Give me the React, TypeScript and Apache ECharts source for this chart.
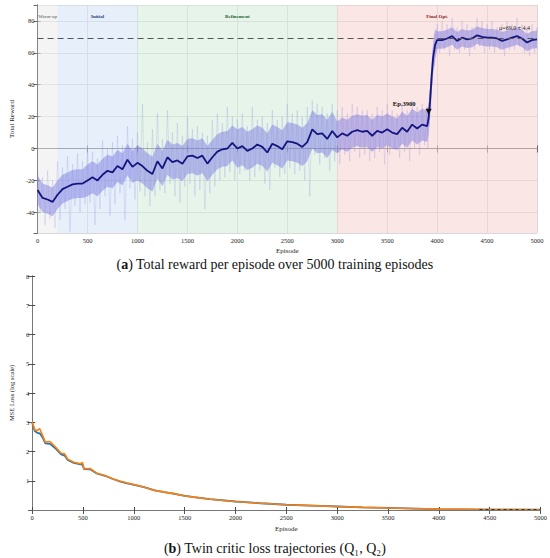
import React, { useEffect, useRef } from "react";
import * as echarts from "echarts";

// ---------- (a) Total reward ----------
const rewardEpisodes = [
  0, 50, 100, 150, 200, 250, 300, 350, 400, 450,
  500, 550, 600, 650, 700, 750, 800, 850, 900, 950,
  1000, 1050, 1100, 1150, 1200, 1250, 1300, 1350, 1400, 1450,
  1500, 1550, 1600, 1650, 1700, 1750, 1800, 1850, 1900, 1950,
  2000, 2050, 2100, 2150, 2200, 2250, 2300, 2350, 2400, 2450,
  2500, 2550, 2600, 2650, 2700, 2750, 2800, 2850, 2900, 2950,
  3000, 3050, 3100, 3150, 3200, 3250, 3300, 3350, 3400, 3450,
  3500, 3550, 3600, 3650, 3700, 3750, 3800, 3850, 3900,
  3915, 3930, 3945, 3960, 3980,
  4000, 4050, 4100, 4150, 4200, 4250, 4300, 4350, 4400, 4450,
  4500, 4550, 4600, 4650, 4700, 4750, 4800, 4850, 4900, 4950, 5000,
];
const meanReward = [
  -26, -31, -32, -33.5, -29, -25.5, -24, -22.5, -22, -22,
  -20, -18, -20, -16.5, -14, -15, -11, -13, -7, -11.5,
  -9, -11, -14, -16, -8, -12.5, -5.5, -8.5, -7.5, -9.5,
  -5, -4.5, -6, -4.5, -9.5, -5.5, -2, -0.5, 0, 3.5,
  0, 1.5, -1.5, 0, 2.5, 1, -2.5, 3, 1.5, -0.5,
  4.5, 4, 3, 1, 4, 12, 9, 9.5, 6, 11,
  7, 9.5, 8, 10.5, 11.5, 10.5, 11, 8, 11, 10,
  12, 10, 9, 13, 10.5, 15, 12.5, 15, 14,
  19, 30, 45, 57, 65,
  68, 68, 69, 70.5, 67.5, 69.5, 68.5, 69, 71, 70,
  69.5, 69.5, 69, 67.5, 68.5, 69.5, 70.5, 69, 66.5, 68, 68.5,
];
const rawHigh = [
  -12, -18, -14, -20, -8, -12, -5, -10, -3, -8,
  0, -2, -6, 5, 0, 4, 8, 2, 14, 6,
  10, 28, 4, 12, 22, 6, 24, 10, 16, 8,
  20, 12, 14, 10, 8, 18, 22, 16, 26, 20,
  18, 22, 14, 26, 18, 20, 16, 24, 18, 20,
  28, 22, 24, 20, 26, 30, 28, 26, 22, 28,
  24, 26, 22, 28, 26, 24, 24, 22, 26, 24,
  28, 24, 22, 28, 24, 30, 26, 28, 26,
  24, 36, 50, 62, 72,
  78, 80, 78, 82, 76, 80, 78, 76, 82, 80,
  78, 80, 76, 78, 80, 78, 82, 78, 76, 78, 76,
];
const rawLow = [
  -40, -48, -44, -50, -45, -38, -52, -36, -40, -35,
  -34, -48, -38, -30, -42, -35, -28, -45, -25, -32,
  -27, -30, -36, -30, -26, -28, -22, -30, -34, -24,
  -22, -30, -26, -38, -28, -24, -20, -18, -15, -20,
  -16, -14, -20, -18, -14, -22, -26, -12, -18, -16,
  -12, -16, -14, -20, -30, -4, -10, -6, -14, -8,
  -10, -4, -8, -2, -6, -4, -8, -6, -2, -10,
  -4, 0, -6, -2, -8, 0, -4, 2, 0,
  14, 24, 40, 52, 60,
  60, 62, 58, 62, 60, 62, 58, 62, 64, 60,
  62, 60, 62, 58, 62, 62, 64, 60, 58, 60, 62,
];
// std half-width of the shaded band, one value per 500-episode segment
const rewardStd = [9, 10, 11, 11, 12, 12, 10, 10, 5.5, 5.5];

const phases = [
  { name: "Warm-up", from: 0, to: 200, fill: "rgba(235,235,235,0.55)", text: "#555555", weight: "normal" },
  { name: "Initial", from: 200, to: 1000, fill: "rgba(209,225,245,0.55)", text: "#1f3f7a", weight: "bold" },
  { name: "Refinement", from: 1000, to: 3000, fill: "rgba(209,235,217,0.55)", text: "#1d5e2c", weight: "bold" },
  { name: "Final Opt.", from: 3000, to: 5000, fill: "rgba(247,209,209,0.55)", text: "#8b1c1c", weight: "bold" },
];
const convergedMean = 69;
const convergedLabel = "μ=69.0 ± 4.4";
const jumpEpisode = 3900;

// ---------- (b) Twin critic loss ----------
const lossEpisodes = [
  0, 25, 50, 75, 100, 130, 175, 225, 285, 320,
  350, 410, 475, 495, 510, 570, 635, 715, 795, 860,
  935, 1015, 1110, 1205, 1300, 1400, 1490, 1590, 1750, 2000,
  2250, 2500, 2750, 3000, 3250, 3500, 3750, 4000, 4500, 5000,
];
const lossQ1 = [
  2.98, 2.70, 2.64, 2.62, 2.50, 2.28, 2.26, 2.12, 1.90, 1.86,
  1.71, 1.61, 1.56, 1.55, 1.40, 1.39, 1.25, 1.17, 1.06, 0.98,
  0.91, 0.85, 0.77, 0.67, 0.61, 0.55, 0.49, 0.44, 0.37, 0.29,
  0.23, 0.18, 0.15, 0.12, 0.09, 0.07, 0.05, 0.03, 0.015, 0.01,
];
const lossQ2 = [
  3.02, 2.74, 2.72, 2.78, 2.57, 2.32, 2.34, 2.17, 1.94, 1.92,
  1.74, 1.63, 1.58, 1.63, 1.41, 1.42, 1.26, 1.18, 1.06, 0.99,
  0.92, 0.86, 0.77, 0.67, 0.61, 0.56, 0.49, 0.44, 0.37, 0.29,
  0.23, 0.18, 0.15, 0.12, 0.09, 0.07, 0.05, 0.03, 0.015, 0.01,
];

const SERIF = "'Liberation Serif', 'DejaVu Serif', serif";

function stdAt(ep: number) {
  return rewardStd[Math.min(rewardStd.length - 1, Math.floor(ep / 500))];
}

export default function App() {
  const ref = useRef<HTMLDivElement>(null);
  useEffect(() => {
    if (!ref.current) return;
    const chart = echarts.init(ref.current, undefined, { renderer: "svg" });

    const meanData = rewardEpisodes.map((e, i) => [e, meanReward[i]]);
    const rawData: number[][] = [];
    rewardEpisodes.forEach((e, i) => {
      rawData.push([e, rawHigh[i]]);
      const next = i < rewardEpisodes.length - 1 ? rewardEpisodes[i + 1] : e;
      rawData.push([(e + next) / 2, rawLow[i]]);
    });

    const plain = (v: number) => String(v);
    const tickFont = { fontFamily: SERIF, fontSize: 6.5, color: "#222", formatter: plain };
    const axisLineTop = { lineStyle: { color: "#666", width: 1 } };

    const option: any = {
      animation: false,
      textStyle: { fontFamily: SERIF },
      grid: [
        { left: 22, right: 13, top: 5, height: 228 },
        { left: 17, right: 8, top: 276, height: 234 },
      ],
      xAxis: [
        {
          gridIndex: 0, type: "value", min: 0, max: 5000, interval: 500,
          name: "Episode", nameLocation: "middle", nameGap: 14,
          nameTextStyle: { fontFamily: SERIF, fontSize: 7, color: "#222" },
          axisLine: axisLineTop, axisTick: { inside: true, length: 3, lineStyle: { color: "#666" } },
          axisLabel: { ...tickFont, margin: 4 },
          splitLine: { show: true, lineStyle: { color: "#cfcfcf", width: 0.8 } },
        },
        {
          gridIndex: 0, type: "value", position: "top", min: 0, max: 5000, interval: 500,
          axisLine: axisLineTop, axisTick: { inside: true, length: 4, lineStyle: { color: "#666" } },
          axisLabel: { show: false }, splitLine: { show: false },
        },
        {
          gridIndex: 1, type: "value", min: 0, max: 5000, interval: 500,
          name: "Episode", nameLocation: "middle", nameGap: 15,
          nameTextStyle: { fontFamily: SERIF, fontSize: 7, color: "#222" },
          axisLine: { lineStyle: { color: "#444", width: 1 } },
          axisTick: { inside: true, length: 3, lineStyle: { color: "#444" } },
          axisLabel: { ...tickFont, margin: 4 },
          splitLine: { show: false },
        },
        {
          gridIndex: 1, type: "value", position: "top", min: 0, max: 5000, interval: 500,
          axisLine: { lineStyle: { color: "#777", width: 1 } },
          axisTick: { inside: true, length: 4, lineStyle: { color: "#555" } },
          axisLabel: { show: false }, splitLine: { show: false },
        },
      ],
      yAxis: [
        {
          gridIndex: 0, type: "value", min: -53, max: 90, splitNumber: 7, minInterval: 20, maxInterval: 20,
          name: "Total Reward", nameLocation: "middle", nameGap: 14,
          nameTextStyle: { fontFamily: SERIF, fontSize: 7, color: "#222" },
          axisLine: { show: true, ...axisLineTop },
          axisTick: { show: true, inside: true, length: 3, lineStyle: { color: "#666" } },
          axisLabel: { ...tickFont, margin: 3, showMinLabel: false, showMaxLabel: false },
          splitLine: { show: true, lineStyle: { color: "#cfcfcf", width: 0.8 } },
        },
        {
          gridIndex: 0, type: "value", position: "right", min: -53, max: 90, splitNumber: 7, minInterval: 20, maxInterval: 20,
          axisLine: { show: true, ...axisLineTop },
          axisTick: { show: true, inside: true, length: 4, lineStyle: { color: "#666" } },
          axisLabel: { show: false }, splitLine: { show: false },
        },
        {
          gridIndex: 1, type: "value", min: 0, max: 8, interval: 1,
          name: "MSE Loss (log scale)", nameLocation: "middle", nameGap: 10,
          nameTextStyle: { fontFamily: SERIF, fontSize: 6.5, color: "#222" },
          axisLine: { show: true, lineStyle: { color: "#444", width: 1 } },
          axisTick: { show: true, inside: true, length: 3, lineStyle: { color: "#444" } },
          axisLabel: { ...tickFont, margin: 3, showMinLabel: false },
          splitLine: { show: false },
        },
        {
          gridIndex: 1, type: "value", position: "right", min: 0, max: 8, interval: 1,
          axisLine: { show: true, lineStyle: { color: "#777", width: 1 } },
          axisTick: { show: true, inside: true, length: 4, lineStyle: { color: "#555" } },
          axisLabel: { show: false }, splitLine: { show: false },
        },
      ],
      series: [
        {
          name: "raw",
          type: "line",
          xAxisIndex: 0, yAxisIndex: 0,
          data: rawData,
          showSymbol: false,
          z: 2,
          lineStyle: { color: "rgba(125,125,220,0.3)", width: 0.6 },
          markArea: {
            silent: true,
            z: 1,
            data: phases.map((p) => [
              {
                xAxis: p.from,
                itemStyle: { color: p.fill },
                label: {
                  show: true, position: "insideTop", distance: 9,
                  formatter: p.name, color: p.text, fontSize: 5, fontWeight: p.weight, fontFamily: SERIF,
                },
              },
              { xAxis: p.to },
            ]),
          },
          markLine: {
            silent: true, symbol: "none",
            label: { show: false },
            lineStyle: { color: "#555", type: [6, 4], width: 1 },
            data: [{ yAxis: convergedMean }],
          },
        },
        {
          name: "band",
          type: "custom",
          xAxisIndex: 0, yAxisIndex: 0,
          data: [[0, 0]],
          z: 3,
          clip: true,
          renderItem: (params: any, api: any) => {
            const upper = rewardEpisodes.map((e, i) => api.coord([e, meanReward[i] + stdAt(e)]));
            const lower = rewardEpisodes
              .map((e, i) => api.coord([e, meanReward[i] - stdAt(e)]))
              .reverse();
            return {
              type: "polygon",
              shape: { points: upper.concat(lower) },
              style: { fill: "rgba(115,115,225,0.45)" },
            };
          },
        },
        {
          name: "mean",
          type: "line",
          xAxisIndex: 0, yAxisIndex: 0,
          data: meanData,
          showSymbol: false,
          z: 4,
          lineStyle: { color: "#15157f", width: 1.8 },
          markPoint: {
            silent: true,
            data: [
              {
                coord: [jumpEpisode + 15, 23],
                symbol: "triangle", symbolRotate: 180, symbolSize: [6, 6],
                itemStyle: { color: "#111" },
                label: { show: false },
              },
              {
                coord: [3670, 28],
                symbol: "circle", symbolSize: 0,
                label: {
                  show: true, position: "inside", formatter: "Ep." + jumpEpisode,
                  fontSize: 6.5, fontWeight: "bold", color: "#111", fontFamily: SERIF,
                },
              },
              {
                coord: [4775, 75.5],
                symbol: "circle", symbolSize: 0,
                label: {
                  show: true, position: "inside", formatter: convergedLabel,
                  fontSize: 6, color: "#222", fontFamily: SERIF,
                },
              },
            ],
          },
        },
        {
          name: "Q1",
          type: "line",
          xAxisIndex: 2, yAxisIndex: 2,
          data: lossEpisodes.map((e, i) => [e, lossQ1[i]]),
          showSymbol: false,
          lineStyle: { color: "#1f77b4", width: 1.8 },
        },
        {
          name: "Q2",
          type: "line",
          xAxisIndex: 2, yAxisIndex: 2,
          data: lossEpisodes.map((e, i) => [e, lossQ2[i]]),
          showSymbol: false,
          lineStyle: { color: "#ff7f0e", width: 1.6 },
          markLine: {
            silent: true, symbol: "none",
            label: { show: false },
            lineStyle: { color: "#333", type: [3, 3], width: 1 },
            data: [[{ coord: [4400, 0.02] }, { coord: [5000, 0.02] }]],
          },
        },
      ],
      graphic: [
        {
          type: "text",
          left: "center",
          top: 257,
          style: {
            text: "({b|a}) Total reward per episode over 5000 training episodes",
            fontFamily: SERIF, fontSize: 14, fill: "#111",
            rich: { b: { fontWeight: "bold", fontFamily: SERIF, fontSize: 14 } },
          },
        },
        {
          type: "text",
          left: "center",
          top: 541,
          style: {
            text: "({b|b}) Twin critic loss trajectories (Q₁, Q₂)",
            fontFamily: SERIF, fontSize: 14, fill: "#111",
            rich: { b: { fontWeight: "bold", fontFamily: SERIF, fontSize: 14 } },
          },
        },
      ],
    };
    chart.setOption(option);
    return () => chart.dispose();
  }, []);
  return (
    <div
      ref={ref}
      style={{ position: "fixed", left: 0, top: 0, width: 550, height: 558, background: "#fff" }}
    />
  );
}
